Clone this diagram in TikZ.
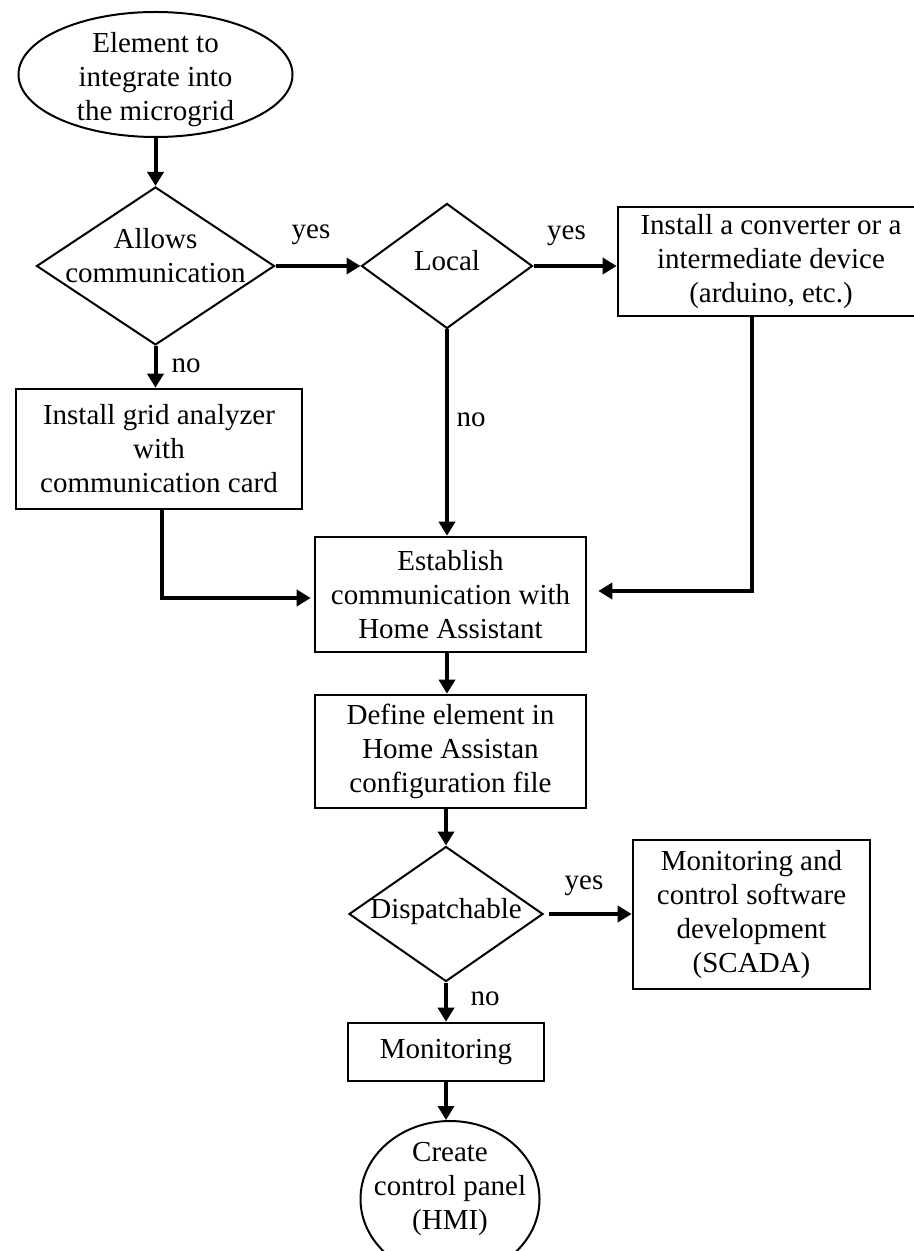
\documentclass[tikz,border=0pt]{standalone}
\usepackage{fontspec}
\setmainfont{Liberation Serif}
\usetikzlibrary{shapes.geometric,arrows.meta}
\begin{document}
\begin{tikzpicture}[x=0.5pt,y=-0.5pt,
  every node/.style={font=\fontsize{14.5pt}{17pt}\selectfont, inner sep=0pt},
  box/.style={draw, line width=1.3pt, rectangle, align=center},
  dia/.style={draw, line width=1pt, diamond},
  ell/.style={draw, line width=1pt, ellipse},
  txt/.style={align=center},
  arr/.style={line width=2pt, -{Triangle[length=7pt,width=8pt]}}]
\clip (0,0) rectangle (914,1251);
% shapes
\node[ell, minimum width=137pt, minimum height=62.5pt] (e1) at (155.5,74.5) {};
\node[txt] (e1t) at (155.5,80) {Element to\\integrate into\\the microgrid};
\node[dia, minimum width=119pt, minimum height=79pt] (d1) at (155.5,266) {};
\node[txt] (d1t) at (155.5,256) {Allows\\communication};
\node[dia, minimum width=85.5pt, minimum height=62.5pt] (d2) at (447,266) {};
\node (d2t) at (447,261) {Local};
\node[box, minimum width=153pt, minimum height=54.5pt] (b3) at (771,261.5) {Install a converter or a\\intermediate device\\(arduino, etc.)};
\node[box, minimum width=143pt, minimum height=60pt] (b2) at (159,449) {Install grid analyzer\\with\\communication card};
\node[box, minimum width=135.5pt, minimum height=57.5pt] (b4) at (450.5,594.5) {Establish\\communication with\\Home Assistant};
\node[box, minimum width=135.5pt, minimum height=56.5pt] (b5) at (450.5,751.5) {Define element in\\Home Assistan\\configuration file};
\node[dia, minimum width=97pt, minimum height=67.5pt] (d3) at (446,914) {};
\node (d3t) at (446,912) {Dispatchable};
\node[box, minimum width=118.5pt, minimum height=74.5pt] (b6) at (751.5,914.5) {Monitoring and\\control software\\development\\(SCADA)};
\node[box, minimum width=98pt, minimum height=29pt] (b7) at (446,1052) {Monitoring};
\node[ell, minimum width=89.5pt, minimum height=78pt] (c1) at (450,1199) {};
\node[txt] (c1t) at (450,1189) {Create\\control panel\\(HMI)};
% labels
\node (l1) at (311,235) {yes};
\node (l2) at (566.5,236) {yes};
\node (l3) at (584,886) {yes};
\node (n1) at (186,366) {no};
\node (n2) at (471,420) {no};
\node (n3) at (485,999) {no};
% connectors
\draw[arr] (e1.south -| d1.north) -- (d1.north);
\draw[arr] (d1.east) -- (d2.west);
\draw[arr] (d2.east) -- (d2.east -| b3.west);
\draw[arr] (d1.south) -- (d1.south |- b2.north);
\draw[arr] (d2.south) -- (d2.south |- b4.north);
\draw[arr] ([xshift=-9.5pt]b3.south) |- ([xshift=5.5pt,yshift=1.75pt]b4.east);
\draw[arr] ([xshift=1.5pt]b2.south) |- ([xshift=-1.5pt,yshift=-1.75pt]b4.west);
\draw[arr] (b4.south -| d2.south) -- (b5.north -| d2.south);
\draw[arr] (b5.south -| d3.north) -- (d3.north);
\draw[arr, shorten <=2.5pt] (d3.east) -- (d3.east -| b6.west);
\draw[arr] (d3.south) -- (d3.south |- b7.north);
\draw[arr] (b7.south) -- (b7.south |- c1.north);
\end{tikzpicture}
\end{document}
